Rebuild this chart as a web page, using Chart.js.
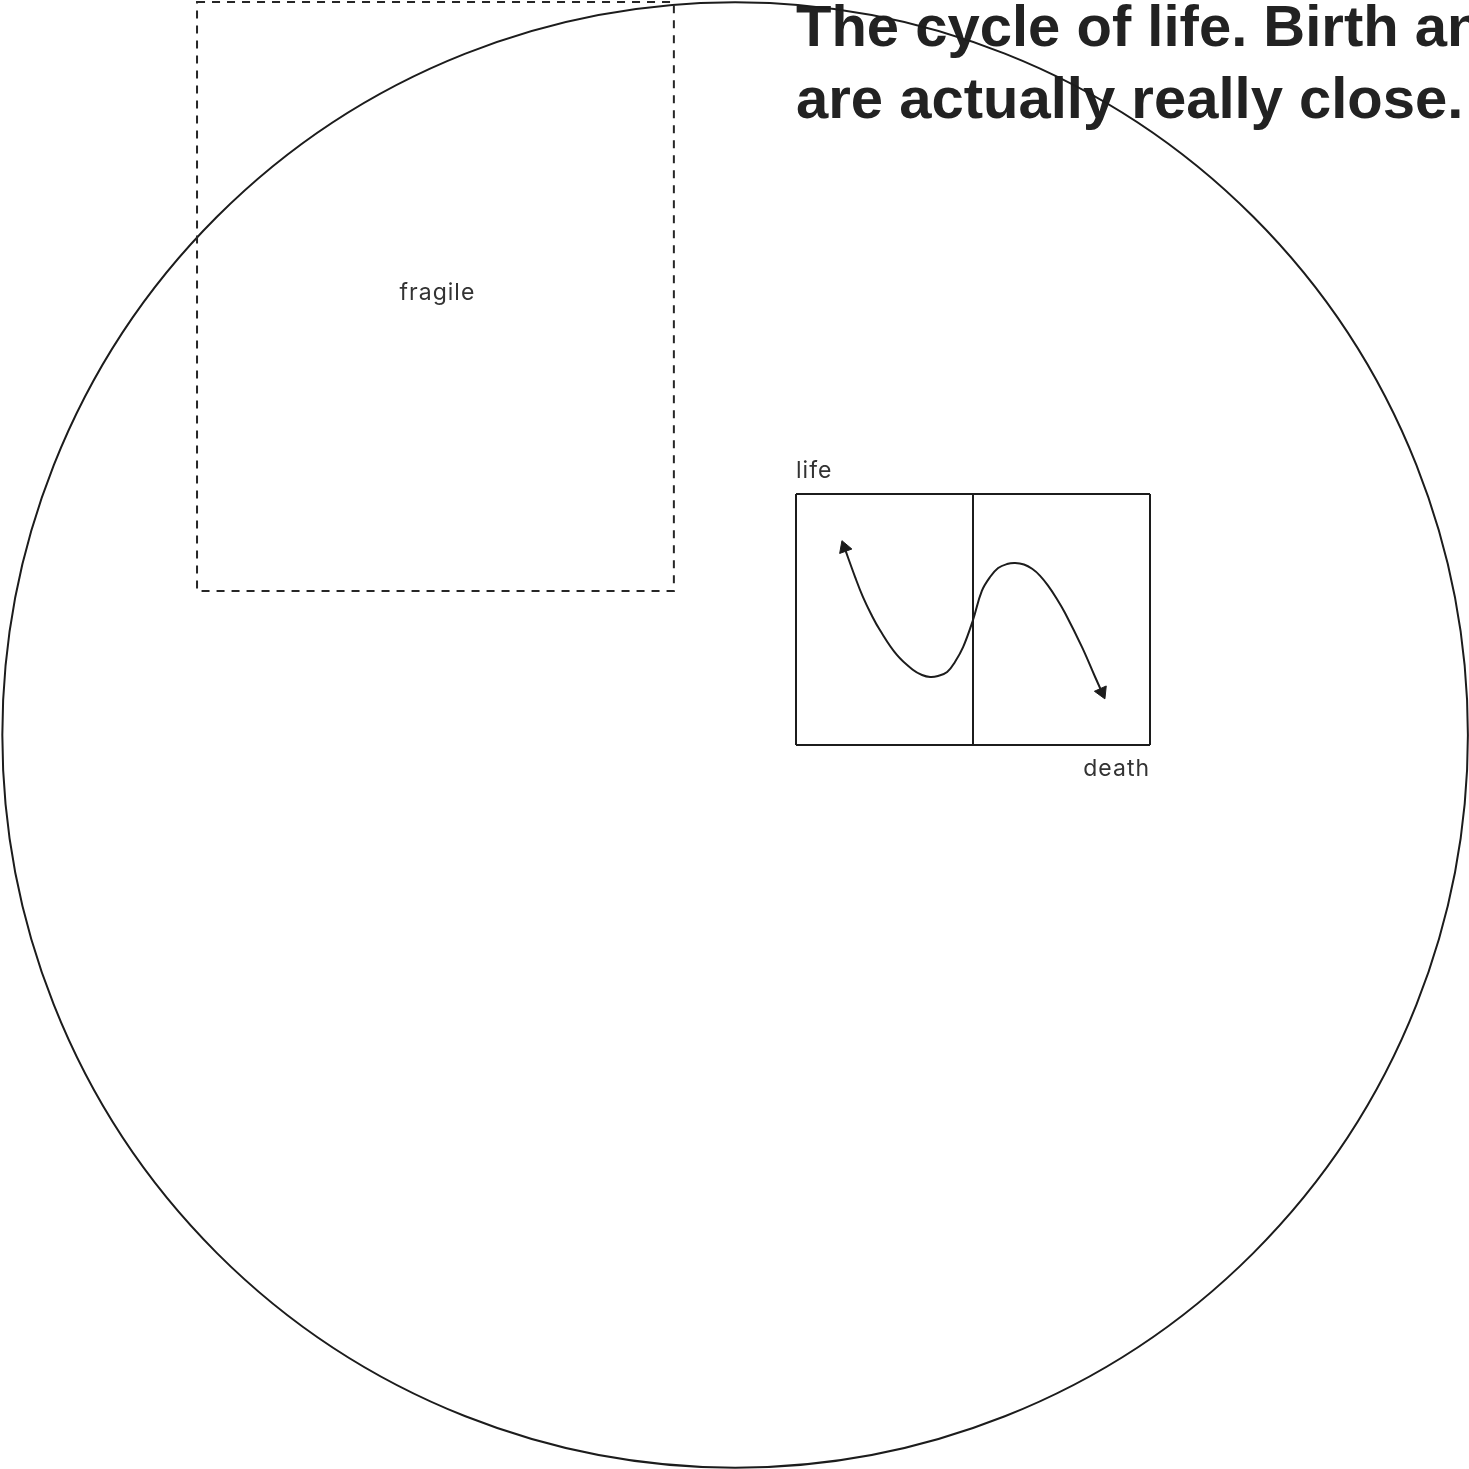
<!DOCTYPE html>
<html>
<head>
<meta charset="utf-8">
<title>The cycle of life</title>
<script src="https://cdn.jsdelivr.net/npm/chart.js@4.4.1/dist/chart.umd.min.js"></script>
<style>
  html, body { margin: 0; padding: 0; background: #fff; }
  canvas { display: block; }
</style>
</head>
<body>
<canvas id="cycleChart" width="1469" height="1469"></canvas>
<script>
// curve, in box units (0-10 on both axes)
const lifeX = [1.37, 1.67, 1.89, 2.12, 2.37, 2.85, 3.31, 3.56, 3.79, 4.01, 4.27, 4.49, 4.72, 5.00,
               5.25, 5.48, 5.71, 5.96, 6.19, 6.44, 6.67, 6.89, 7.12, 7.37, 7.60, 8.08, 8.45, 8.64];
const lifeY = [7.86, 6.69, 5.90, 5.22, 4.58, 3.59, 2.99, 2.79, 2.71, 2.75, 2.91, 3.31, 3.90, 4.98,
               6.14, 6.69, 7.05, 7.21, 7.25, 7.19, 7.02, 6.75, 6.35, 5.82, 5.26, 3.90, 2.71, 2.11];

// grid lines: box edges plus the divider in the middle
const xTicks = [0, 5, 10];
const yTicks = [0, 10];

const titleLines = ["The cycle of life. Birth and death", "are actually really close."];
const yLabel = "life";
const xLabel = "death";
const noteLabel = "fragile";

const ink = "#1c1c1c";
const textInk = "#222222";
const labelInk = "#333333";

// decorations, placed in the same box units (scales extend past the box)
const ring = { cx: -1.72, cy: 0.40, r: 20.7 }; // r measured on the x scale
const noteBox = { x0: -16.92, x1: -3.45, y0: 6.14, y1: 29.6 };

document.addEventListener("DOMContentLoaded", function () {
  const canvas = document.getElementById("cycleChart");
  const ctx = canvas.getContext("2d");

  const points = lifeX.map((x, i) => ({ x: x, y: lifeY[i] }));
  const last = points.length - 1;

  // rotate the end triangles so they point along the curve
  function arrowRotation(context) {
    const i = context.dataIndex;
    if (i !== 0 && i !== last) return 0;
    const j = i === 0 ? 1 : last - 1;
    const sx = context.chart.scales.x;
    const sy = context.chart.scales.y;
    const dx = sx.getPixelForValue(lifeX[i]) - sx.getPixelForValue(lifeX[j]);
    const dy = sy.getPixelForValue(lifeY[i]) - sy.getPixelForValue(lifeY[j]);
    return (Math.atan2(dx, -dy) * 180) / Math.PI;
  }

  const decorations = {
    id: "decorations",
    afterDraw(chart) {
      const c = chart.ctx;
      const sx = chart.scales.x;
      const sy = chart.scales.y;
      const area = chart.chartArea;
      c.save();

      // title
      c.fillStyle = textInk;
      c.font = 'bold 58px "Liberation Sans", Arial, sans-serif';
      c.textAlign = "left";
      c.textBaseline = "alphabetic";
      c.fillText(titleLines[0], area.left, 46);
      c.fillText(titleLines[1], area.left, 118);

      // big ring
      const cx = sx.getPixelForValue(ring.cx);
      const cy = sy.getPixelForValue(ring.cy);
      const r = Math.abs(sx.getPixelForValue(ring.cx + ring.r) - cx);
      c.strokeStyle = ink;
      c.lineWidth = 2;
      c.beginPath();
      c.arc(cx, cy, r, 0, Math.PI * 2);
      c.stroke();

      // dashed "fragile" box
      const bx0 = sx.getPixelForValue(noteBox.x0);
      const bx1 = sx.getPixelForValue(noteBox.x1);
      const by0 = sy.getPixelForValue(noteBox.y0);
      const by1 = sy.getPixelForValue(noteBox.y1);
      c.setLineDash([8, 7]);
      c.lineWidth = 2;
      c.strokeStyle = "#262626";
      c.strokeRect(Math.min(bx0, bx1), Math.min(by0, by1), Math.abs(bx1 - bx0), Math.abs(by1 - by0));
      c.setLineDash([]);

      c.font = '400 23px Inter, "Noto Sans", sans-serif';
      c.letterSpacing = "1px";
      c.fillStyle = labelInk;
      c.textAlign = "center";
      c.fillText(noteLabel, (bx0 + bx1) / 2 + 2, 300);

      // axis labels
      c.textAlign = "left";
      c.fillText(yLabel, area.left, area.top - 16);
      c.textAlign = "right";
      c.fillText(xLabel, area.right, area.bottom + 31);

      c.restore();
    },
  };

  new Chart(ctx, {
    type: "line",
    data: {
      datasets: [
        {
          label: "life",
          data: points,
          borderColor: ink,
          borderWidth: 2,
          fill: false,
          tension: 0.4,
          pointStyle: "triangle",
          pointRadius: (c) => (c.dataIndex === 0 || c.dataIndex === last ? 7.5 : 0),
          pointRotation: arrowRotation,
          pointBackgroundColor: ink,
          pointBorderColor: ink,
          pointBorderWidth: 1,
        },
      ],
    },
    options: {
      responsive: false,
      devicePixelRatio: 1,
      animation: false,
      events: [],
      layout: {
        padding: { left: 796, right: 319, top: 494, bottom: 724 },
      },
      scales: {
        x: {
          type: "linear",
          min: 0,
          max: 10,
          afterBuildTicks: (scale) => {
            scale.ticks = xTicks.map((v) => ({ value: v }));
          },
          ticks: { display: false },
          grid: { color: ink, lineWidth: 2, drawTicks: false },
          border: { display: false },
        },
        y: {
          type: "linear",
          min: 0,
          max: 10,
          afterBuildTicks: (scale) => {
            scale.ticks = yTicks.map((v) => ({ value: v }));
          },
          ticks: { display: false },
          grid: { color: ink, lineWidth: 2, drawTicks: false },
          border: { display: false },
        },
      },
      plugins: {
        legend: { display: false },
        tooltip: { enabled: false },
      },
    },
    plugins: [decorations],
  });
});
</script>
</body>
</html>
